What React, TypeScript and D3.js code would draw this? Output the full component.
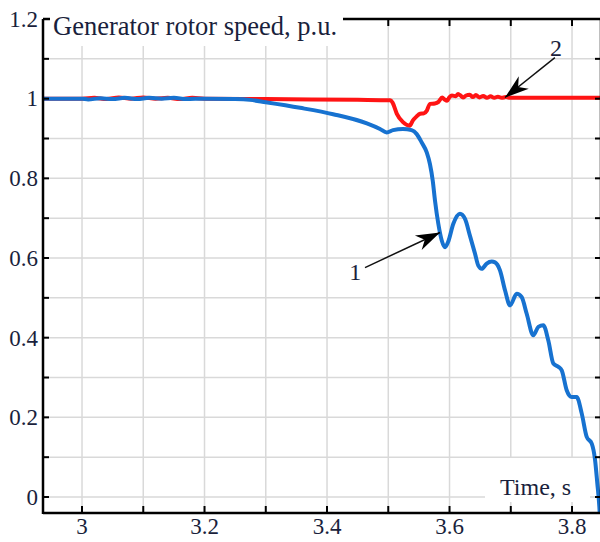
import * as React from "react";
import * as d3 from "d3";

// curve 1: generator rotor speed, blue (loses stability)
const blueSeries: [number, number][] = [
  [2.936, 1.0], [3.0, 1.0], [3.01, 0.998], [3.03, 1.001], [3.05, 0.999], [3.07, 1.002],
  [3.09, 0.999], [3.11, 1.002], [3.13, 1.0], [3.15, 1.002], [3.17, 0.999], [3.2, 1.0],
  [3.25, 0.999], [3.274, 0.997], [3.3, 0.991], [3.356, 0.977], [3.41, 0.961], [3.465, 0.938],
  [3.4865, 0.924], [3.4975, 0.915], [3.5078, 0.921], [3.524, 0.924], [3.538, 0.921],
  [3.5465, 0.911], [3.5546, 0.89], [3.5628, 0.865], [3.568, 0.836], [3.5726, 0.794],
  [3.5763, 0.744], [3.5817, 0.686], [3.5873, 0.644], [3.5927, 0.627], [3.5976, 0.64],
  [3.6062, 0.686], [3.6171, 0.711], [3.6253, 0.698], [3.6335, 0.655], [3.6416, 0.611],
  [3.647, 0.581], [3.6526, 0.573], [3.6607, 0.586], [3.6689, 0.591], [3.6743, 0.589],
  [3.6824, 0.569], [3.6906, 0.519], [3.6988, 0.481], [3.7097, 0.51], [3.7177, 0.502],
  [3.726, 0.46], [3.7368, 0.406], [3.745, 0.427], [3.7531, 0.431], [3.7613, 0.393],
  [3.7695, 0.335], [3.7776, 0.327], [3.7832, 0.318], [3.7913, 0.268], [3.7995, 0.251],
  [3.8076, 0.251], [3.8158, 0.21], [3.824, 0.151], [3.8322, 0.134], [3.8376, 0.093],
  [3.8413, 0.034], [3.8446, -0.024], [3.846, -0.06],
];

// curve 2: generator rotor speed, red (stays stable)
const redSeries: [number, number][] = [
  [2.936, 1.0], [3.0, 1.0], [3.02, 1.002], [3.04, 0.999], [3.06, 1.003], [3.08, 1.0],
  [3.1, 1.003], [3.12, 1.0], [3.14, 1.002], [3.16, 0.999], [3.18, 1.002], [3.2, 1.0],
  [3.3, 0.999], [3.45, 0.997], [3.503, 0.996], [3.507, 0.99], [3.514, 0.962], [3.524, 0.941],
  [3.535, 0.932], [3.54, 0.945], [3.546, 0.955], [3.552, 0.962], [3.558, 0.963],
  [3.563, 0.97], [3.568, 0.987], [3.576, 0.988], [3.582, 0.992], [3.588, 1.003],
  [3.592, 0.998], [3.596, 0.995], [3.6, 1.004], [3.604, 1.008], [3.61, 1.006], [3.614, 1.012],
  [3.618, 1.008], [3.622, 1.003], [3.627, 1.008], [3.633, 1.01], [3.638, 1.004],
  [3.643, 1.009], [3.649, 1.003], [3.655, 1.007], [3.661, 1.002], [3.667, 1.006],
  [3.673, 1.002], [3.679, 1.005], [3.685, 1.002], [3.692, 1.004], [3.7, 1.002],
  [3.75, 1.002], [3.85, 1.002],
];

const xTickLabels = [3, 3.2, 3.4, 3.6, 3.8];
const yTickLabels = [0, 0.2, 0.4, 0.6, 0.8, 1, 1.2];
const xGrid = [3.0, 3.1, 3.2, 3.3, 3.4, 3.5, 3.6, 3.7, 3.8];
const yGrid = [0, 0.1, 0.2, 0.3, 0.4, 0.5, 0.6, 0.7, 0.8, 0.9, 1.0, 1.1, 1.2];

// annotations: label position, arrow start, arrow tip (data coords)
const annotations = [
  { label: "1", at: [3.446, 0.565], from: [3.462, 0.576], to: [3.5845, 0.664] },
  { label: "2", at: [3.774, 1.128], from: [3.772, 1.103], to: [3.6906, 1.003] },
];

const titleText = "Generator rotor speed, p.u.";
const xAxisText = "Time, s";

const serif = "Liberation Serif";
const ink = "#1a1f3c";

export default function App() {
  const left = 43, right = 601, top = 19, bottom = 513;

  const x = d3.scaleLinear().domain([2.9363, 3.8473]).range([left, right]);
  const y = d3.scaleLinear().domain([-0.0401, 1.2]).range([bottom, top]);

  const line = d3.line<[number, number]>()
    .x(d => x(d[0]))
    .y(d => y(d[1]))
    .curve(d3.curveMonotoneX);

  const arrowHead = (x0: number, y0: number, x1: number, y1: number) => {
    const dx = x1 - x0, dy = y1 - y0;
    const len = Math.hypot(dx, dy);
    const ux = dx / len, uy = dy / len;
    const nx = -uy, ny = ux;
    const L = 24, W = 8;
    const p = [
      [x1, y1],
      [x1 - L * ux + W * nx, y1 - L * uy + W * ny],
      [x1 - 0.7 * L * ux, y1 - 0.7 * L * uy],
      [x1 - L * ux - W * nx, y1 - L * uy - W * ny],
    ];
    return p.map(q => q.join(",")).join(" ");
  };

  const textStyle = { fontFamily: serif };

  return (
    <svg width={600} height={542} style={{ position: "absolute", left: 0, top: 0, background: "#fff" }}>
      <defs>
        <clipPath id="plot-clip">
          <rect x={left} y={top} width={right - left} height={bottom - top} />
        </clipPath>
      </defs>

      {/* grid */}
      <g stroke="#d9d9d9" strokeWidth={1.5}>
        {xGrid.map(t => (
          <line key={"gx" + t} x1={x(t)} x2={x(t)} y1={top} y2={bottom} />
        ))}
        {yGrid.map(v => (
          <line key={"gy" + v} x1={left} x2={right} y1={y(v)} y2={y(v)} />
        ))}
      </g>

      {/* boxes behind the labels */}
      <rect x={50} y={0} width={293} height={46} fill="#fff" />
      <rect x={485} y={458} width={105} height={44} fill="#fff" />

      {/* curves */}
      <g clipPath="url(#plot-clip)" fill="none" strokeWidth={4} strokeLinejoin="round">
        <path d={line(redSeries) ?? ""} stroke="#ff1414" />
        <path d={line(blueSeries) ?? ""} stroke="#1772d0" />
      </g>

      {/* frame */}
      <g stroke="#000" strokeWidth={2.5} fill="none">
        <line x1={left} x2={left} y1={top} y2={bottom + 1} />
        <line x1={left} x2={right} y1={bottom} y2={bottom} />
        <line x1={left} x2={50} y1={top} y2={top} />
        <line x1={343} x2={right} y1={top} y2={top} />
        <line x1={right} x2={right} y1={top} y2={bottom} />
      </g>

      {/* ticks */}
      <g stroke="#000" strokeWidth={2}>
        {yGrid.map(v => (
          <g key={"ty" + v}>
            <line x1={left} x2={left + 6} y1={y(v)} y2={y(v)} />
            <line x1={right - 6} x2={right} y1={y(v)} y2={y(v)} />
          </g>
        ))}
        {xGrid.map(t => (
          <g key={"tx" + t}>
            <line x1={x(t)} x2={x(t)} y1={bottom} y2={bottom - 7} />
            {x(t) > 343 && <line x1={x(t)} x2={x(t)} y1={top} y2={top + 7} />}
          </g>
        ))}
      </g>

      {/* tick labels */}
      {yTickLabels.map(v => (
        <text key={"ly" + v} x={38} y={y(v)} dy="0.34em" textAnchor="end"
          style={textStyle} fontSize={23} fill={ink}>{v}</text>
      ))}
      {xTickLabels.map(t => (
        <text key={"lx" + t} x={x(t)} y={534} textAnchor="middle"
          style={textStyle} fontSize={23} fill={ink}>{t}</text>
      ))}

      {/* titles */}
      <text x={53} y={35} style={textStyle} fontSize={26.5} fill={ink}>{titleText}</text>
      <text x={500} y={495} style={textStyle} fontSize={24} fill={ink}>{xAxisText}</text>

      {/* annotations */}
      {annotations.map(a => {
        const x0 = x(a.from[0]), y0 = y(a.from[1]);
        const x1 = x(a.to[0]), y1 = y(a.to[1]);
        return (
          <g key={a.label}>
            <line x1={x0} y1={y0} x2={x1} y2={y1} stroke="#111" strokeWidth={1.5} />
            <polygon points={arrowHead(x0, y0, x1, y1)} fill="#000" />
            <text x={x(a.at[0])} y={y(a.at[1])} dy="0.34em" textAnchor="middle"
              style={textStyle} fontSize={24} fill={ink}>{a.label}</text>
          </g>
        );
      })}
    </svg>
  );
}
